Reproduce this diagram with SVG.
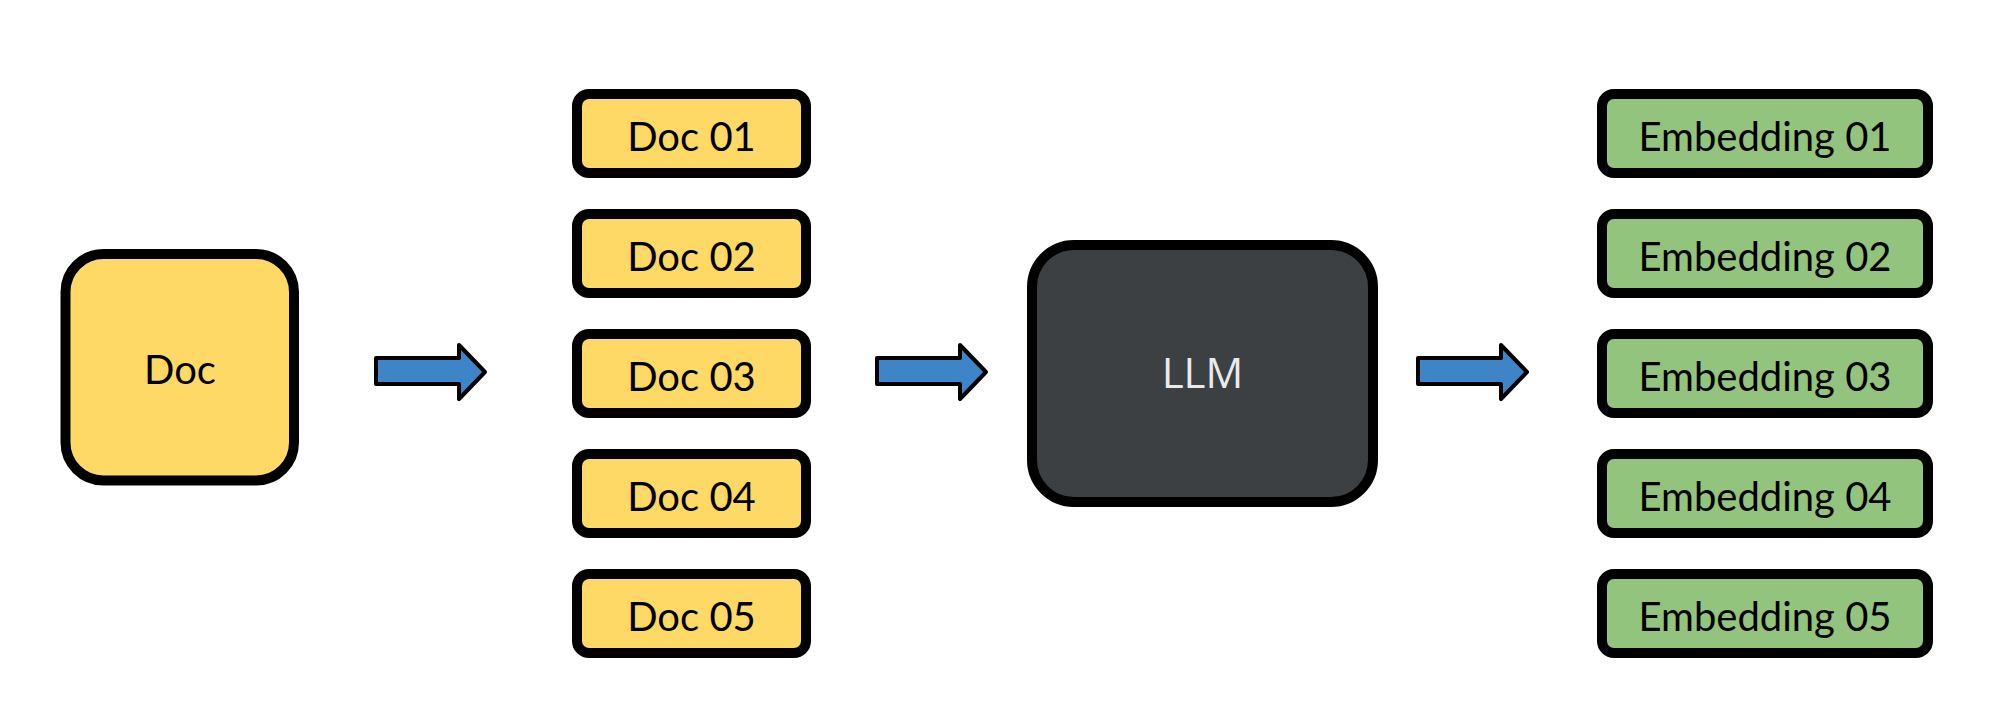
<svg xmlns="http://www.w3.org/2000/svg" width="1999" height="725" viewBox="0 0 1999 725">
<style>
.box{stroke:#000;stroke-width:10}
.yel{fill:#fed966}
.grn{fill:#93c47d}
.llm{fill:#3c4043}
.t{font-family:Lato,"Open Sans","Liberation Sans",sans-serif;font-size:40px;fill:#000;text-anchor:middle}
.tl{font-family:"Open Sans","Liberation Sans",sans-serif;font-size:42px;fill:#e8eaed;text-anchor:middle}
.arr{fill:#3d85c6;stroke:#000;stroke-width:4;stroke-linejoin:round}
</style>
<defs>
<polygon id="arrowShape" class="arr" points="0,358 83,358 83,345 109,372 83,399 83,384 0,384"/>
</defs>
<rect width="1999" height="725" fill="#fff"/>
<g id="doc">
<rect class="box yel" x="65.5" y="254" width="228.5" height="226.5" rx="38"/>
<text class="t" x="180" y="384">Doc</text>
</g>
<g id="doc01"><rect class="box yel" x="577" y="94" width="229" height="79" rx="12"/><text class="t" x="691.5" y="151">Doc 01</text></g>
<g id="doc02"><rect class="box yel" x="577" y="214" width="229" height="79" rx="12"/><text class="t" x="691.5" y="271">Doc 02</text></g>
<g id="doc03"><rect class="box yel" x="577" y="334" width="229" height="79" rx="12"/><text class="t" x="691.5" y="391">Doc 03</text></g>
<g id="doc04"><rect class="box yel" x="577" y="454" width="229" height="79" rx="12"/><text class="t" x="691.5" y="511">Doc 04</text></g>
<g id="doc05"><rect class="box yel" x="577" y="574" width="229" height="79" rx="12"/><text class="t" x="691.5" y="631">Doc 05</text></g>
<g id="llm">
<rect class="box llm" x="1032" y="245" width="341" height="257" rx="42"/>
<text class="tl" x="1202.5" y="388">LLM</text>
</g>
<g id="emb01"><rect class="box grn" x="1602" y="94" width="326" height="79" rx="12"/><text class="t" x="1765" y="151">Embedding 01</text></g>
<g id="emb02"><rect class="box grn" x="1602" y="214" width="326" height="79" rx="12"/><text class="t" x="1765" y="271">Embedding 02</text></g>
<g id="emb03"><rect class="box grn" x="1602" y="334" width="326" height="79" rx="12"/><text class="t" x="1765" y="391">Embedding 03</text></g>
<g id="emb04"><rect class="box grn" x="1602" y="454" width="326" height="79" rx="12"/><text class="t" x="1765" y="511">Embedding 04</text></g>
<g id="emb05"><rect class="box grn" x="1602" y="574" width="326" height="79" rx="12"/><text class="t" x="1765" y="631">Embedding 05</text></g>
<g id="connectors">
<use href="#arrowShape" x="376"/>
<use href="#arrowShape" x="877"/>
<use href="#arrowShape" x="1418"/>
</g>
</svg>
